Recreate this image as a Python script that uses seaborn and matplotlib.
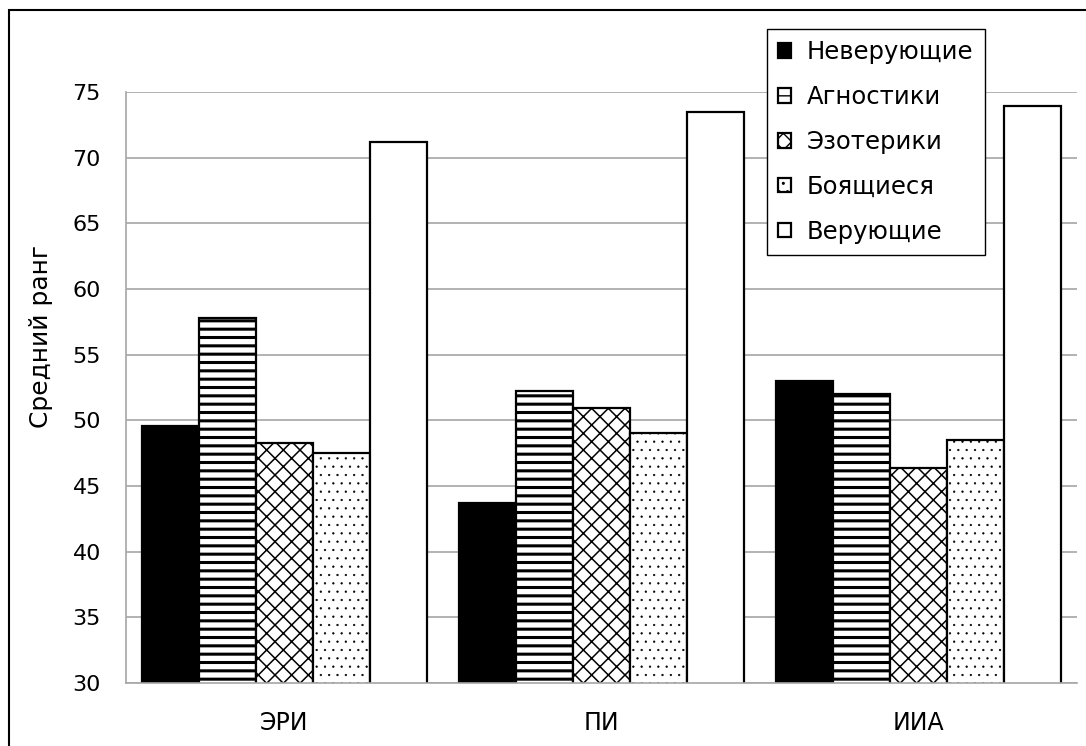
import pandas as pd
import matplotlib.pyplot as plt
import seaborn as sns
from matplotlib.patches import Rectangle
from matplotlib.ticker import FixedLocator

# данные
groups = ["ЭРИ", "ПИ", "ИИА"]
categories = ["Неверующие", "Агностики", "Эзотерики", "Боящиеся", "Верующие"]
neveruyushchie = [49.6, 43.7, 53.0]
agnostiki = [57.8, 52.2, 52.0]
ezoteriki = [48.3, 50.9, 46.4]
boyashchiesya = [47.5, 49.0, 48.5]
veruyushchie = [71.2, 73.5, 73.9]

series = [neveruyushchie, agnostiki, ezoteriki, boyashchiesya, veruyushchie]
rows = []
for cat, vals in zip(categories, series):
    for g, v in zip(groups, vals):
        rows.append({"group": g, "category": cat, "value": v})
df = pd.DataFrame(rows)

sns.set_style("white")
plt.rcParams["font.family"] = ["DejaVu Sans"]
plt.rcParams["text.color"] = "black"
plt.rcParams["xtick.color"] = "black"
plt.rcParams["ytick.color"] = "black"
plt.rcParams["axes.labelcolor"] = "black"

fig = plt.figure(figsize=(10.86, 7.46), dpi=100)
ax = fig.add_axes([0.116, 0.0845, 0.8757, 0.7922])

palette = ["black", "white", "white", "white", "white"]
sns.barplot(data=df, x="group", y="value", hue="category", hue_order=categories,
            palette=palette, saturation=1, width=0.9, edgecolor="black",
            linewidth=1.6, ax=ax, legend=False)

hatches = [None, "--", "xx", "..", None]
hatch_lw = [1.0, 2.2, 1.1, 0.4, 1.0]
for cont, h, lw in zip(ax.containers, hatches, hatch_lw):
    for bar in cont:
        if h:
            bar.set_hatch(h)
        if hasattr(bar, "set_hatch_linewidth"):
            bar.set_hatch_linewidth(lw)

ax.set_ylim(30, 75)
ax.set_xlim(-0.5, 2.5)
ax.set_yticks(range(30, 80, 5))
ax.yaxis.grid(True, color="#a6a6a6", linewidth=1.2)
ax.set_axisbelow(True)
for s in ["top", "right"]:
    ax.spines[s].set_visible(False)
for s in ["left", "bottom"]:
    ax.spines[s].set_color("#a6a6a6")
    ax.spines[s].set_linewidth(1.2)

ax.tick_params(axis="y", length=6, color="#a6a6a6", labelcolor="black",
               width=1.2, labelsize=16, pad=12)
ax.tick_params(axis="x", which="major", length=0, labelsize=17, pad=20,
               labelcolor="black")
ax.xaxis.set_minor_locator(FixedLocator([-0.5, 0.5, 1.5, 2.5]))
ax.tick_params(axis="x", which="minor", length=6, color="#a6a6a6", width=1.2)
ax.set_xlabel("")
ax.set_ylabel("Средний ранг", fontsize=18, color="black")
ax.yaxis.set_label_coords(-0.0768, 0.587)

leg = ax.legend(ax.containers, categories, loc="upper left",
                bbox_to_anchor=(767 / 1086, 1 - 29 / 746),
                bbox_transform=fig.transFigure, fontsize=17.5, frameon=True,
                fancybox=False, edgecolor="black", framealpha=1,
                handlelength=0.53, handleheight=0.53, handletextpad=0.66,
                labelspacing=0.86, borderpad=0.46, borderaxespad=0)
leg.get_frame().set_linewidth(1.0)

# внешняя рамка
fig.patches.append(Rectangle((9 / 1086, -0.1), 1.2, 1.1 - 10 / 746,
                             transform=fig.transFigure, fill=False,
                             edgecolor="black", linewidth=1.5))

fig.savefig("out.png", dpi=100)
